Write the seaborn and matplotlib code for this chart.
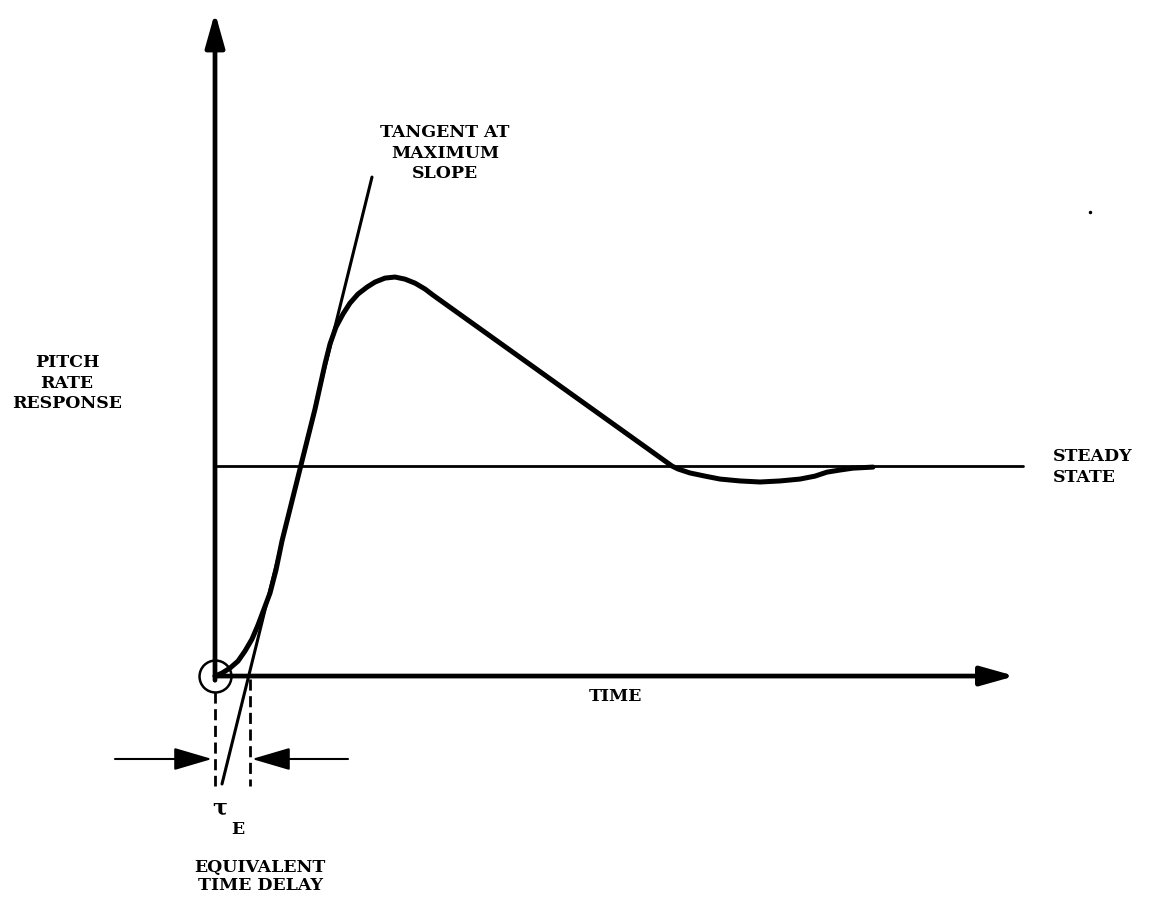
import numpy as np
import pandas as pd
import seaborn as sns
import matplotlib.pyplot as plt

sns.set_style("white")

# pitch rate response (time, response; steady state = 1)
time = [0.00, 0.07, 0.15, 0.23, 0.30, 0.37, 0.43, 0.49, 0.55, 0.61, 0.67,
        0.85, 1.00, 1.10, 1.15, 1.21, 1.28, 1.35, 1.43, 1.52, 1.60, 1.70,
        1.80, 1.90, 2.00, 2.10, 2.18,
        4.57, 4.63, 4.75, 4.90, 5.05, 5.25, 5.45, 5.65, 5.85, 6.00, 6.12,
        6.25, 6.38, 6.58]
response = [0.000, 0.014, 0.038, 0.071, 0.119, 0.176, 0.243, 0.319, 0.395,
            0.505, 0.643, 0.986, 1.271, 1.486, 1.581, 1.662, 1.724, 1.776,
            1.819, 1.852, 1.876, 1.895, 1.900, 1.890, 1.871, 1.843, 1.814,
            1.000, 0.986, 0.967, 0.952, 0.938, 0.929, 0.924, 0.929, 0.938,
            0.952, 0.971, 0.981, 0.990, 0.995]

# tangent at maximum slope
tangent_t = [0.07, 1.57]
tangent_q = [-0.514, 2.376]

steady_t = [0.0, 8.08]
steady_q = [1.0, 1.0]

tau_e = 0.35      # equivalent time delay
t_end = 8.0       # end of time axis
q_top = 3.16      # end of response axis

df = pd.DataFrame({"t": time, "q": response})

fig = plt.figure(figsize=(11.57, 9.03), dpi=100)
ax = fig.add_axes([0, 0, 1, 1])
ax.set_xlim(-2.15, 9.42)
ax.set_ylim(-1.076, 3.224)
ax.set_axis_off()

ink = "black"
fnt = dict(family="DejaVu Serif", fontsize=12.5, fontweight="bold", color=ink)

# steady state line
sns.lineplot(x=steady_t, y=steady_q, ax=ax, color=ink, lw=2.0, sort=False)
# tangent line
sns.lineplot(x=tangent_t, y=tangent_q, ax=ax, color=ink, lw=2.2, sort=False)
# response curve
line = sns.lineplot(data=df, x="t", y="q", ax=ax, color=ink, lw=3.6, sort=False)
ax.lines[-1].set_solid_joinstyle("round")
ax.lines[-1].set_solid_capstyle("round")

# axes with arrow heads
arrow = dict(arrowstyle="-|>,head_length=1.6,head_width=0.45", color=ink,
             lw=3.4, shrinkA=0, shrinkB=0, mutation_scale=13)
ax.annotate("", xy=(0, q_top), xytext=(0, -0.02), arrowprops=arrow)
ax.annotate("", xy=(t_end, 0), xytext=(0, 0), arrowprops=arrow)

# circle at origin
ax.plot([0], [0], marker="o", ms=23, mfc="none", mec=ink, mew=1.8)

# dashed markers of the delay
ax.plot([0, 0], [-0.076, -0.524], color=ink, lw=2.0, ls=(0, (4, 2)))
ax.plot([tau_e, tau_e], [-0.014, -0.524], color=ink, lw=2.0, ls=(0, (4, 2)))

# arrows pointing at the delay interval
small = dict(arrowstyle="-|>,head_length=1.7,head_width=0.5", color=ink,
             lw=1.5, shrinkA=0, shrinkB=0, mutation_scale=14)
ax.annotate("", xy=(-0.03, -0.395), xytext=(-1.0, -0.395), arrowprops=small)
ax.annotate("", xy=(tau_e + 0.02, -0.395), xytext=(1.33, -0.395), arrowprops=small)

# labels
ax.text(-1.48, 1.40, "PITCH\nRATE\nRESPONSE", ha="center", va="center",
        linespacing=1.3, **fnt)
ax.text(2.30, 2.495, "TANGENT AT\nMAXIMUM\nSLOPE", ha="center", va="center",
        linespacing=1.25, **fnt)
ax.text(8.38, 1.0, "STEADY\nSTATE", ha="left", va="center",
        linespacing=1.3, **fnt)
ax.text(4.00, -0.095, "TIME", ha="center", va="center", **fnt)
ax.text(0.05, -0.625, "τ", ha="center", va="center", family="DejaVu Serif",
        fontsize=16, fontweight="bold", color=ink)
ax.text(0.23, -0.725, "E", ha="center", va="center", **fnt)
ax.text(0.45, -0.95, "EQUIVALENT\nTIME DELAY", ha="center", va="center",
        linespacing=1.1, **fnt)
ax.plot([8.75], [2.21], marker="o", ms=1.5, color=ink)

fig.savefig("out.png", dpi=100, facecolor="white")
